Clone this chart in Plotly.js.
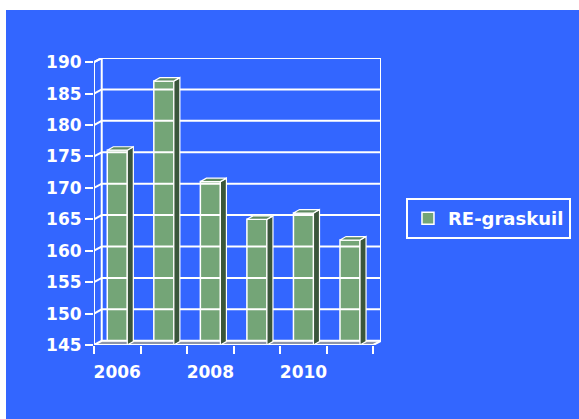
<!DOCTYPE html>
<html>
<head>
<meta charset="utf-8">
<script src="https://cdn.plot.ly/plotly-3.0.1.min.js"></script>
<style>
  html, body { margin: 0; padding: 0; background: #ffffff; width: 579px; height: 419px; overflow: hidden; }
  #chart { position: absolute; left: 6px; top: 10px; width: 573px; height: 409px; }
</style>
</head>
<body>
<div id="chart"></div>
<script>
// ---- data ----
const years = ['2006', '2007', '2008', '2009', '2010', '2011'];
const values = [176, 187, 171, 165, 166, 161.7];
const yTicks = [145, 150, 155, 160, 165, 170, 175, 180, 185, 190];
const seriesName = 'RE-graskuil';

// ---- styling / geometry constants ----
const BLUE = '#3366FF';
const FRONT = '#74A577';
const SIDE = '#3A563B';
const TOPC = '#5E8A60';
const BASE = yTicks[0];
const TOPV = yTicks[yTicks.length - 1];
const DXW = 0.166, DYW = 0.67;   // wall depth (data units)
const DXB = 0.13, DYB = 0.55;    // bar depth
const W = 0.43;                  // bar width
const FONT = { family: 'DejaVu Sans, sans-serif', size: 17, color: '#ffffff', weight: 700 };

const idx = years.map((_, i) => i);
const xL = -0.5, xR = years.length - 0.5;

// frame & gridlines
const fx = [], fy = [];
function seg(pts) { pts.forEach(p => { fx.push(p[0]); fy.push(p[1]); }); fx.push(null); fy.push(null); }
seg([[xL, BASE], [xL, TOPV], [xL + DXW, TOPV + DYW]]);
seg([[xL + DXW, BASE + DYW], [xL + DXW, TOPV + DYW]]);
seg([[xR + DXW, BASE + DYW], [xR + DXW, TOPV + DYW]]);
yTicks.forEach(v => seg([[xL, v], [xL + DXW, v + DYW], [xR + DXW, v + DYW]]));
seg([[xL, BASE], [xR, BASE], [xR + DXW, BASE + DYW]]);

// floor
const floorX = [xL, xR, xR + DXW, xL + DXW, xL];
const floorY = [BASE, BASE, BASE + DYW, BASE + DYW, BASE];

// bar side and top faces
const sx = [], sy = [], tx = [], ty = [];
idx.forEach(i => {
  const v = values[i], r = i + W / 2, l = i - W / 2;
  sx.push(r, r + DXB, r + DXB, r, r, null);
  sy.push(BASE, BASE + DYB, v + DYB, v, BASE, null);
  tx.push(l, r, r + DXB, l + DXB, l, null);
  ty.push(v, v, v + DYB, v + DYB, v, null);
});

const data = [
  { type: 'scatter', x: floorX, y: floorY, mode: 'lines', fill: 'toself', fillcolor: '#8E96A8',
    line: { color: '#ffffff', width: 1 }, showlegend: false, hoverinfo: 'skip', cliponaxis: false },
  { type: 'scatter', x: fx, y: fy, mode: 'lines', line: { color: '#ffffff', width: 2 },
    showlegend: false, hoverinfo: 'skip', cliponaxis: false },
  { type: 'scatter', x: sx, y: sy, mode: 'lines', fill: 'toself', fillcolor: SIDE,
    line: { color: '#ffffff', width: 1.2 }, showlegend: false, hoverinfo: 'skip', cliponaxis: false },
  { type: 'scatter', x: tx, y: ty, mode: 'lines', fill: 'toself', fillcolor: TOPC,
    line: { color: '#ffffff', width: 1.2 }, showlegend: false, hoverinfo: 'skip', cliponaxis: false },
  { type: 'bar', x: idx, y: values, width: W, name: seriesName,
    marker: { color: FRONT, line: { color: '#ffffff', width: 1.5 } }, hoverinfo: 'skip' }
];

const labelIdx = idx.filter(i => i % 2 === 0);

const layout = {
  width: 573, height: 409,
  margin: { l: 88, r: 198, t: 48, b: 74, pad: 0, autoexpand: false },
  paper_bgcolor: BLUE, plot_bgcolor: BLUE,
  showlegend: true,
  hovermode: false,
  font: FONT,
  xaxis: {
    range: [xL, xR + DXW], showgrid: false, zeroline: false, showline: false,
    tickmode: 'array', tickvals: labelIdx, ticktext: labelIdx.map(i => years[i]),
    ticks: 'outside', ticklen: 8, tickcolor: 'rgba(0,0,0,0)', tickfont: FONT,
    ticklabelstandoff: 4,
    minor: { tickmode: 'linear', tick0: xL, dtick: 1, ticks: 'outside', ticklen: 8, tickwidth: 2, tickcolor: '#ffffff', showgrid: false },
    fixedrange: true
  },
  yaxis: {
    range: [BASE, TOPV + DYW], showgrid: false, zeroline: false, showline: false,
    tickmode: 'array', tickvals: yTicks, ticktext: yTicks.map(String),
    ticks: 'outside', ticklen: 8, tickwidth: 2, tickcolor: '#ffffff', tickfont: FONT,
    fixedrange: true
  },
  legend: {
    x: 1.087, y: 0.5122, xanchor: 'left', yanchor: 'top',
    bgcolor: 'rgba(0,0,0,0)', bordercolor: '#ffffff', borderwidth: 2,
    font: { family: FONT.family, size: 18, color: '#ffffff', weight: 700 }
  }
};

Plotly.newPlot('chart', data, layout, { staticPlot: true, displayModeBar: false });
</script>
</body>
</html>
